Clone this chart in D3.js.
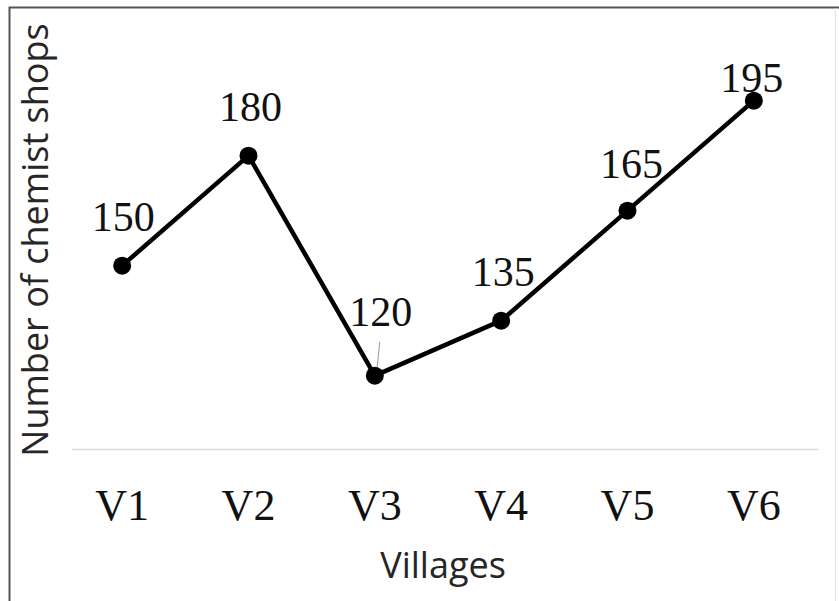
<!DOCTYPE html>
<html>
<head>
<meta charset="utf-8">
<script src="https://cdn.jsdelivr.net/npm/d3@7"></script>
<style>
  html, body { margin: 0; padding: 0; background: #fff; }
  svg { display: block; }
</style>
</head>
<body>
<svg id="chart" width="839" height="601"></svg>
<script>
// Chemist shops per village
const villages = ["V1", "V2", "V3", "V4", "V5", "V6"];
const shops = [150, 180, 120, 135, 165, 195];
const xTitle = "Villages";
const yTitle = "Number of chemist shops";

// label placement above each point (px above the marker centre)
const labelLift = [35, 35, 50, 35, 33, 9];
const labelShift = [1, 2, 6, 2, 4, -2];

const svg = d3.select("#chart");
const W = 839, H = 601;

// frame
svg.append("rect").attr("x", 0).attr("y", 0).attr("width", W).attr("height", H).attr("fill", "#fff");
svg.append("path")
  .attr("d", `M9.5,${H} V7.5 H${W}`)
  .attr("fill", "none").attr("stroke", "#555").attr("stroke-width", 2);
svg.append("line")
  .attr("x1", 835.5).attr("x2", 835.5).attr("y1", 8).attr("y2", H)
  .attr("stroke", "#e4e4e4").attr("stroke-width", 1);

const x = d3.scaleBand().domain(villages).range([59, 817]).padding(0);
const y = d3.scaleLinear().domain([100, 200]).range([449, 82.3]);

// category axis
const xAxis = svg.append("g").attr("transform", "translate(0,449)")
  .call(d3.axisBottom(x).tickSize(0).tickPadding(0));
xAxis.select(".domain").remove();
xAxis.append("line").attr("x1", 72).attr("x2", 818).attr("y1", 0.5).attr("y2", 0.5)
  .attr("stroke", "#d9d9d9").attr("stroke-width", 1.5);
xAxis.selectAll(".tick text")
  .attr("dy", null).attr("y", 71)
  .attr("fill", "#111")
  .attr("font-family", "'Liberation Serif', 'Times New Roman', serif")
  .attr("font-size", 44);

// axis titles
svg.append("text")
  .attr("x", 443).attr("y", 578)
  .attr("text-anchor", "middle")
  .attr("font-family", "'Open Sans', 'Noto Sans', sans-serif")
  .attr("font-size", 36).attr("fill", "#262626")
  .text(xTitle);
svg.append("text")
  .attr("transform", "translate(48,240) rotate(-90)")
  .attr("text-anchor", "middle")
  .attr("font-family", "'Open Sans', 'Noto Sans', sans-serif")
  .attr("font-size", 36).attr("fill", "#262626")
  .text(yTitle);

const pts = villages.map((v, i) => ({ v, val: shops[i], i }));
const cx = d => x(d.v) + x.bandwidth() / 2;

// series line
svg.append("path")
  .datum(pts)
  .attr("fill", "none").attr("stroke", "#000").attr("stroke-width", 4.5)
  .attr("stroke-linejoin", "round")
  .attr("d", d3.line().x(cx).y(d => y(d.val)));

// leader line for the V3 label
const v3 = pts[2];
svg.append("line")
  .attr("x1", cx(v3) + 5).attr("y1", y(v3.val) - 34)
  .attr("x2", cx(v3) + 2).attr("y2", y(v3.val) - 6)
  .attr("stroke", "#999").attr("stroke-width", 1);

// markers
svg.selectAll("circle.pt").data(pts).enter().append("circle")
  .attr("class", "pt")
  .attr("cx", cx).attr("cy", d => y(d.val)).attr("r", 9)
  .attr("fill", "#000");

// value labels
svg.selectAll("text.val").data(pts).enter().append("text")
  .attr("class", "val")
  .attr("x", d => cx(d) + labelShift[d.i])
  .attr("y", d => y(d.val) - labelLift[d.i])
  .attr("text-anchor", "middle")
  .attr("font-family", "'Liberation Serif', 'Times New Roman', serif")
  .attr("font-size", 42).attr("fill", "#111")
  .text(d => d.val);
</script>
</body>
</html>
